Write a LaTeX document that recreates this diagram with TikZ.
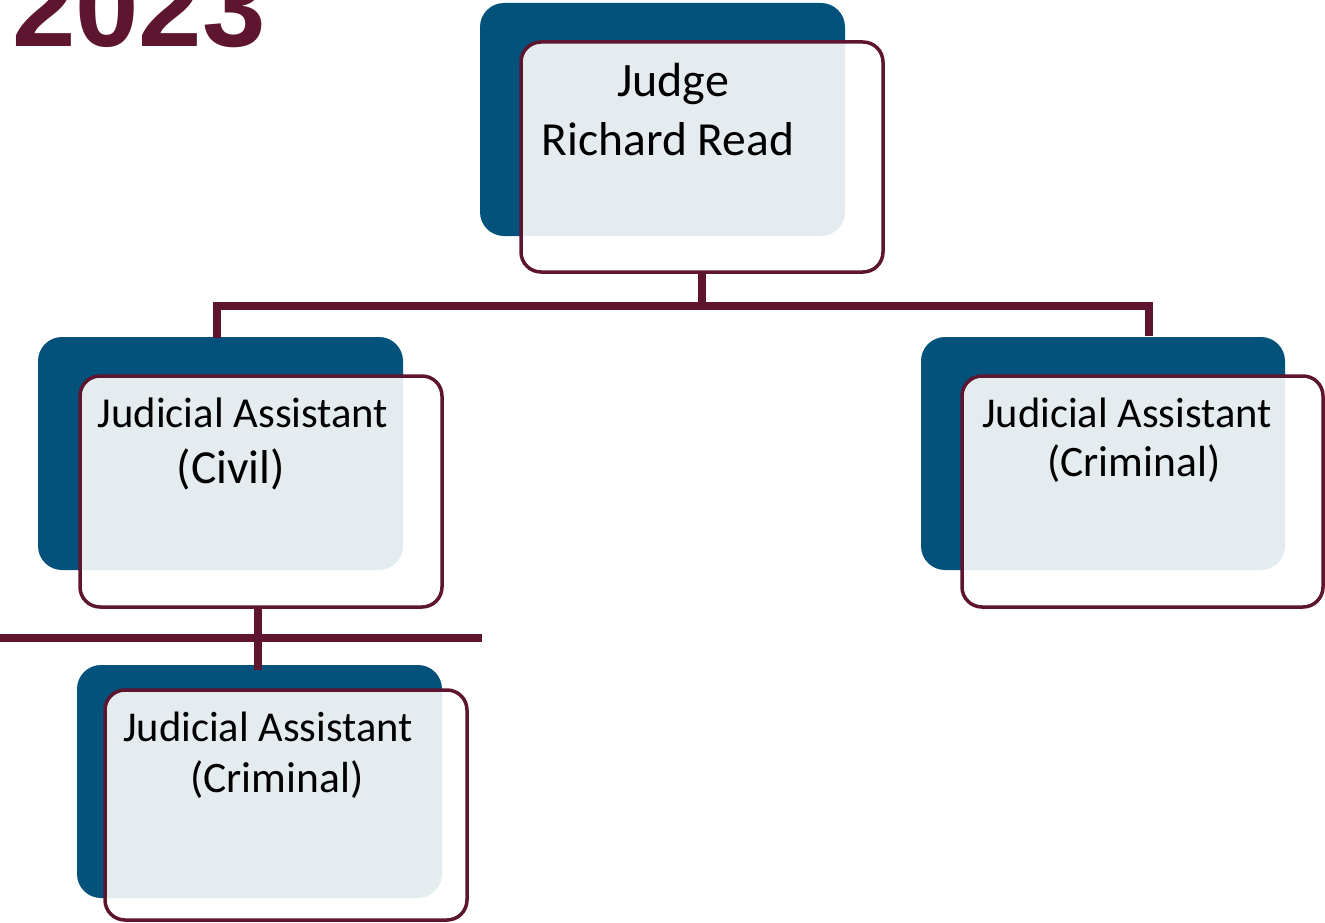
\documentclass[tikz,border=0pt]{standalone}
\usepackage{fontspec}
\setmainfont{Carlito}
\newfontfamily\yearfont{Liberation Sans}
\definecolor{blueC}{HTML}{02527B}
\definecolor{lightC}{HTML}{E4ECF0}
\definecolor{maroonC}{HTML}{5E1530}
\tikzset{
  backbox/.style={fill=blueC, rounded corners=24pt, inner sep=0pt, outer sep=0pt, draw=none},
  frontbox/.style={draw=maroonC, line width=3.5pt, rounded corners=20pt, inner sep=0pt, outer sep=0pt},
  conn/.style={draw=maroonC, line width=7.5pt},
  lbl/.style={anchor=base, inner sep=0pt, text=black},
  fs/.style={font=\fontsize{#1}{#1}\selectfont}
}
% name, bx1, by1, bx2, by2, fx1, fy1, fx2, fy2
\newcommand\drawunit[9]{%
  \node[backbox, minimum width={#4-#2}, minimum height={#5-#3}] (#1b) at ({(#2+#4)/2},{(#3+#5)/2}) {};
  \fill[white, rounded corners=20pt] (#6,#7) rectangle (#8,#9);
  \begin{scope}
    \clip[rounded corners=24pt] (#2,#3) rectangle (#4,#5);
    \fill[lightC, rounded corners=20pt] (#6,#7) rectangle (#8,#9);
  \end{scope}
  \node[frontbox, minimum width={#8-#6}, minimum height={#9-#7}] (#1) at ({(#6+#8)/2},{(#7+#9)/2}) {};
}
\begin{document}
\begin{tikzpicture}[x=1pt, y=-1pt]
\useasboundingbox (0,0) rectangle (1325,923);
% year
\node[anchor=base west, inner sep=0pt, text=maroonC, font=\yearfont\bfseries\fontsize{114}{120}\selectfont] (year) at (12,47) {2023};
% units
\drawunit{top}{480}{3}{845}{236}{521}{42}{883}{272}
\drawunit{civ}{38}{337}{403}{570}{80}{376}{442}{607}
\drawunit{crimR}{921}{337}{1285}{570}{962}{376}{1323}{607}
\drawunit{crimB}{77}{665}{442}{898}{105}{690}{467}{920}
% connectors
\coordinate (busL) at (217,306);
\coordinate (busR) at (1149,306);
\coordinate (dropL) at (217,338);
\coordinate (dropR) at (1149,336);
\draw[conn] (top.south) -- (top.south |- busL);
\draw[conn] (dropL) -- (busL) -- (busR) -- (dropR);
\coordinate (civDrop) at (258,607);
\coordinate (bEnd) at (258,670);
\draw[conn] (civDrop) -- (bEnd);
\coordinate (hl) at (0,638);
\coordinate (hr) at (482,638);
\draw[conn] (hl) -- (hr);
% labels
\node[lbl, fs=48] (t1) at (673,97) {Judge};
\node[lbl, fs=47.5] (t2) at (668,155) {Richard Read};
\node[lbl, fs=42.7] (c1) at (243,427) {Judicial Assistant};
\node[lbl, fs=47.5] (c2) at (231,483) {(Civil)};
\node[lbl, fs=42.5] (r1) at (1127,427) {Judicial Assistant};
\node[lbl, fs=43.5] (r2) at (1134,476) {(Criminal)};
\node[lbl, fs=42.5] (b1) at (268,741) {Judicial Assistant};
\node[lbl, fs=43.5] (b2) at (277,792) {(Criminal)};
\end{tikzpicture}
\end{document}
